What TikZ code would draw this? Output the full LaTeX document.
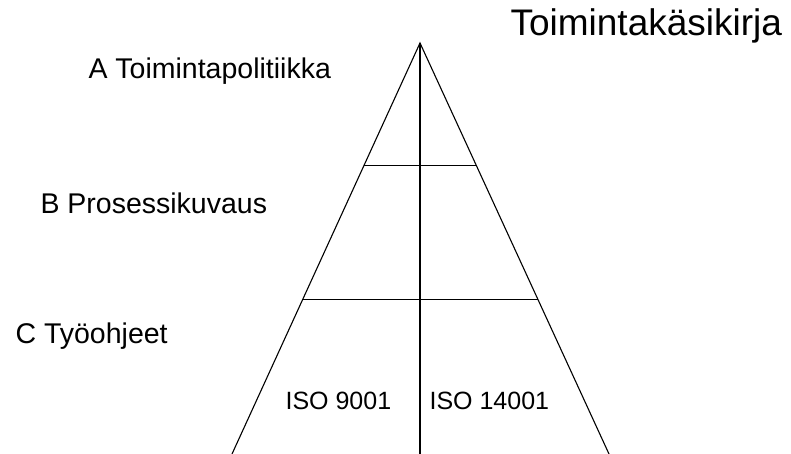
\documentclass[tikz,border=0pt]{standalone}
\usepackage{fontspec}
\setmainfont{Liberation Sans}
\usetikzlibrary{calc,positioning}
\tikzset{
	pyramidstyle/.style={
		x=1pt, y=-1pt,
		line width=1.1pt,
		line join=miter}}

\begin{document}
\begin{tikzpicture}[pyramidstyle,
	every node/.style={inner sep=0pt, anchor=base west},
	level/.style={font=\fontsize{28.5}{30}\selectfont},
	standard/.style={font=\fontsize{25}{27}\selectfont},
	]
	\useasboundingbox (0,0) rectangle (791,454);
	
	\coordinate (apex) at (420,43);
	\coordinate (bl) at (232,454);
	\coordinate (br) at (609,454);
	\coordinate (bm) at (420,454);
	
	\node[font=\fontsize{37}{40}\selectfont] (title) at (510,36) {Toimintakäsikirja};
	
	\node[level] (levA) at (88,79) {A Toimintapolitiikka};
	\node[level] (levB) at (40,213) {B Prosessikuvaus};
	\node[level] (levC) at (15,343) {C Työohjeet};
	
	\node[standard] (iso9) at (285,409) {ISO 9001};
	\node[standard] (iso14) at (429,409) {ISO 14001};
	
	\draw (bl) -- (apex) -- (br);
	\draw (apex) -- (bm);
	\draw ($(apex)!0.299!(bl)$) -- ($(apex)!0.299!(br)$);
	\draw ($(apex)!0.625!(bl)$) -- ($(apex)!0.625!(br)$);
	
\end{tikzpicture}
\end{document}
